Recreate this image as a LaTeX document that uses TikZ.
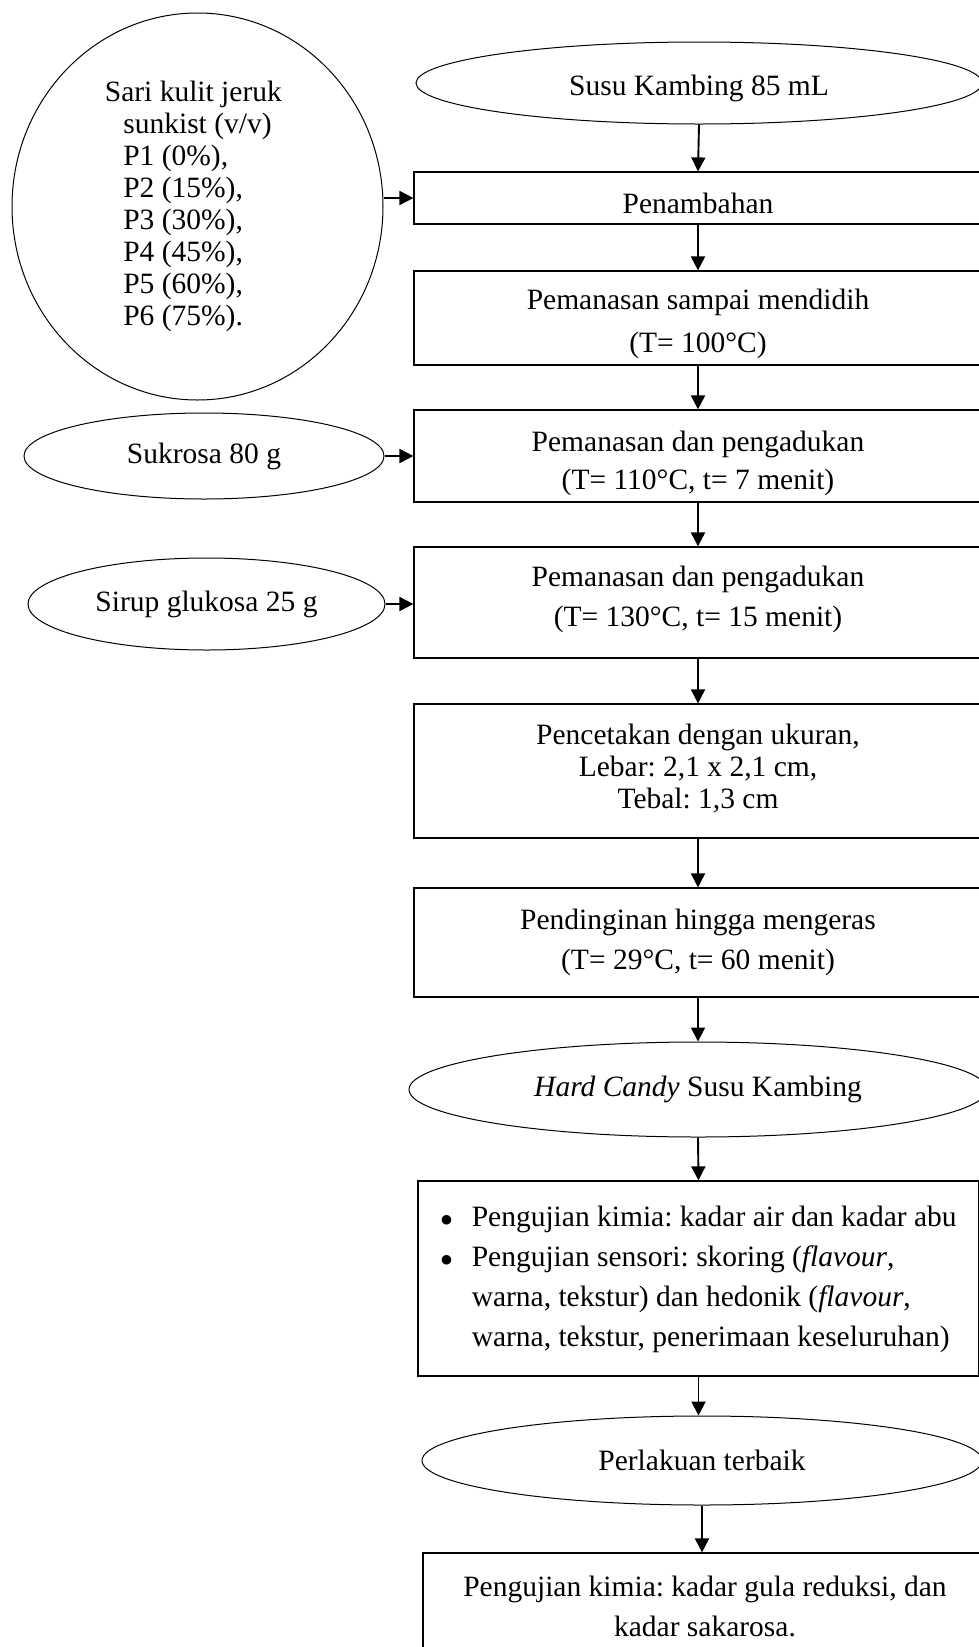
\documentclass[tikz,border=0pt]{standalone}
\usepackage{fontspec}
\setmainfont{Liberation Serif}
\usetikzlibrary{shapes.geometric,arrows.meta}

\begin{document}
\frenchspacing
\begin{tikzpicture}[x=1pt,y=1pt,yscale=-1,
    proc/.style={draw,line width=1.2pt,minimum width=568pt,inner sep=0pt,align=center,font=\fontsize{29.5}{40}\selectfont},
    oval/.style={draw,ellipse,line width=1pt,inner sep=0pt,align=center,font=\fontsize{29.5}{34}\selectfont},
    arr/.style={-{Triangle[length=14pt,width=14pt]},line width=1.9pt}]
    \useasboundingbox (0,0) rectangle (978,1647);

    %Shape: Ellipse (bahan tambahan)
    \node[oval,minimum width=371pt,minimum height=387pt,align=left,font=\fontsize{29.5}{32}\selectfont] (sari) at (197.5,206.5)
        {\makebox[140pt]{Sari kulit jeruk}\\sunkist (v/v)\\P1 (0\%),\\P2 (15\%),\\P3 (30\%),\\P4 (45\%),\\P5 (60\%),\\P6 (75\%).};
    %Shape: Ellipse
    \node[oval,minimum width=360pt,minimum height=86pt] (sukrosa) at (204,456) {Sukrosa 80 g};
    %Shape: Ellipse
    \node[oval,minimum width=357pt,minimum height=92pt] (sirup) at (206.5,604) {Sirup glukosa 25 g};

    %Shape: Ellipse [alur utama]
    \node[oval,minimum width=566pt,minimum height=82pt] (susu) at (699,83) {\rule{0pt}{31pt}Susu Kambing 85 mL};
    %Shape: Rectangle
    \node[proc,minimum height=52pt] (tambah) at (698,198) {\rule{0pt}{31pt}Penambahan};
    %Shape: Rectangle
    \node[proc,minimum height=94pt,font=\fontsize{29.5}{43}\selectfont] (didih) at (698,318) {\rule{0pt}{33pt}Pemanasan sampai mendidih\\(T= 100°C)};
    %Shape: Rectangle
    \node[proc,minimum height=92pt,font=\fontsize{29.5}{38}\selectfont] (aduka) at (698,456) {\rule{0pt}{36pt}Pemanasan dan pengadukan\\(T= 110°C, t= 7 menit)};
    %Shape: Rectangle
    \node[proc,minimum height=111pt] (adukb) at (698,602.5) {Pemanasan dan pengadukan\\(T= 130°C, t= 15 menit)\rule[-12pt]{0pt}{0pt}};
    %Shape: Rectangle
    \node[proc,minimum height=134pt,font=\fontsize{29.5}{32}\selectfont] (cetak) at (698,771) {Pencetakan dengan ukuran,\\Lebar: 2,1 x 2,1 cm,\\Tebal: 1,3 cm\rule[-10pt]{0pt}{0pt}};
    %Shape: Rectangle
    \node[proc,minimum height=109pt] (dingin) at (698,942.5) {Pendinginan hingga mengeras\\(T= 29°C, t= 60 menit)};
    %Shape: Ellipse
    \node[oval,minimum width=578pt,minimum height=95pt] (candy) at (698,1089.5) {\textit{Hard Candy} Susu Kambing};
    %Shape: Rectangle
    \node[proc,minimum width=561pt,minimum height=195pt] (uji) at (698.5,1278.5)
        {\begin{tabular}{@{}l@{\hspace{19pt}}l@{}}
        $\bullet$ & Pengujian kimia: kadar air dan kadar abu\\
        $\bullet$ & Pengujian sensori: skoring (\textit{flavour},\\
         & warna, tekstur) dan hedonik (\textit{flavour},\\
         & warna, tekstur, penerimaan keseluruhan)
        \end{tabular}};
    %Shape: Ellipse
    \node[oval,minimum width=560pt,minimum height=89pt] (terbaik) at (702,1460.5) {Perlakuan terbaik};
    %Shape: Rectangle
    \node[proc,minimum width=564pt,minimum height=107pt] (akhir) at (705,1606.5) {Pengujian kimia: kadar gula reduksi, dan\\kadar sakarosa.};

    %Straight Lines
    \draw[arr] (susu.south) -- (tambah.north);
    \draw[arr] (tambah.south) -- (didih.north);
    \draw[arr] (didih.south) -- (aduka.north);
    \draw[arr] (aduka.south) -- (adukb.north);
    \draw[arr] (adukb.south) -- (cetak.north);
    \draw[arr] (cetak.south) -- (dingin.north);
    \draw[arr] (dingin.south) -- (candy.north);
    \draw[arr] (candy.south) -- (uji.north);
    \draw[arr] (uji.south) -- (uji.south |- terbaik.north);
    \draw[arr] (terbaik.south) -- (terbaik.south |- akhir.north);

    %Straight Lines (masukan samping)
    \draw[arr] (sari.east |- tambah.west) -- (tambah.west);
    \draw[arr] (sukrosa.east) -- (sukrosa.east -| aduka.west);
    \draw[arr] (sirup.east) -- (sirup.east -| adukb.west);

\end{tikzpicture}
\end{document}
